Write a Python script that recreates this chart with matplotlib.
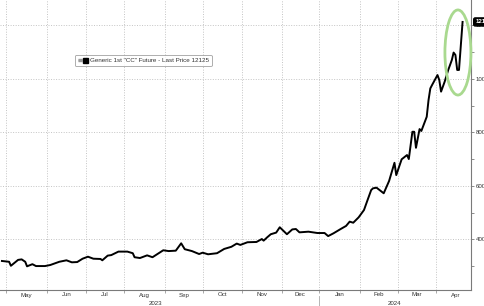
import numpy as np
import matplotlib
matplotlib.use("Agg")
import matplotlib.pyplot as plt
from matplotlib.patches import Ellipse
from matplotlib.lines import Line2D
from matplotlib.legend_handler import HandlerTuple

plt.rcParams['font.family'] = ['Liberation Sans', 'DejaVu Sans']

# ---------------- data ----------------
dates = [
    "2023-04-27", "2023-05-03", "2023-05-04", "2023-05-10", "2023-05-12", "2023-05-16",
    "2023-05-17", "2023-05-22", "2023-05-24", "2023-05-31", "2023-06-05", "2023-06-12",
    "2023-06-16", "2023-06-21", "2023-06-26", "2023-06-29", "2023-07-04", "2023-07-07",
    "2023-07-13", "2023-07-14", "2023-07-19", "2023-07-21", "2023-07-27", "2023-08-03",
    "2023-08-08", "2023-08-09", "2023-08-14", "2023-08-18", "2023-08-23", "2023-08-31",
    "2023-09-05", "2023-09-11", "2023-09-14", "2023-09-18", "2023-09-22", "2023-09-28",
    "2023-10-02", "2023-10-05", "2023-10-12", "2023-10-18", "2023-10-24", "2023-10-27",
    "2023-10-31", "2023-11-06", "2023-11-13", "2023-11-16", "2023-11-17", "2023-11-21",
    "2023-11-23", "2023-11-28", "2023-11-30", "2023-12-04", "2023-12-06", "2023-12-11",
    "2023-12-13", "2023-12-15", "2023-12-22", "2023-12-29", "2024-01-04", "2024-01-08",
    "2024-01-11", "2024-01-17", "2024-01-22", "2024-01-24", "2024-01-26", "2024-01-31",
    "2024-02-05", "2024-02-07", "2024-02-09", "2024-02-12", "2024-02-14", "2024-02-20",
    "2024-02-23", "2024-02-28", "2024-02-29", "2024-03-05", "2024-03-08", "2024-03-11",
    "2024-03-13", "2024-03-14", "2024-03-15", "2024-03-19", "2024-03-20", "2024-03-25",
    "2024-03-26", "2024-03-27", "2024-03-28", "2024-04-02", "2024-04-03", "2024-04-04",
    "2024-04-08", "2024-04-10", "2024-04-12", "2024-04-15", "2024-04-16", "2024-04-17",
    "2024-04-18", "2024-04-22",
]
prices = [
    3190, 3160, 3010, 3230, 3250, 3160,
    2990, 3070, 3000, 3000, 3040, 3160,
    3215, 3140, 3150, 3275, 3350, 3275,
    3265, 3215, 3390, 3410, 3540, 3540,
    3480, 3330, 3300, 3400, 3330, 3590,
    3560, 3575, 3850, 3630, 3560, 3450,
    3500, 3440, 3480, 3640, 3720, 3840,
    3790, 3890, 3900, 4010, 3950, 4075,
    4190, 4250, 4450, 4320, 4190, 4370,
    4385, 4260, 4285, 4235, 4235, 4120,
    4225, 4385, 4500, 4660, 4620, 4820,
    5095, 5470, 5840, 5905, 5930, 5720,
    6180, 6860, 6400, 6990, 7150, 7000,
    8020, 8020, 7420, 8120, 8050, 8580,
    9200, 9640, 9770, 10140, 9955, 9520,
    9890, 10330, 10700, 10980, 10890, 10330,
    10330, 12125,
]
month_starts = ["2023-05-01", "2023-06-01", "2023-07-01", "2023-08-01", "2023-09-01",
                "2023-10-01", "2023-11-01", "2023-12-01", "2024-01-01", "2024-02-01",
                "2024-03-01", "2024-04-01", "2024-05-01"]
month_labels = ["May", "Jun", "Jul", "Aug", "Sep", "Oct", "Nov", "Dec",
                "Jan", "Feb", "Mar", "Apr"]
year_labels = ["2023", "2024"]
year_start_2024 = "2024-01-01"
y_major = [4000, 6000, 8000, 10000, 12000]
y_minor = [3000, 5000, 7000, 9000, 11000]
last_price = 12125
series_name = 'Generic 1st "CC" Future - Last Price 12125'

# trading-day axis
origin = "2023-05-01"
x = np.busday_count(origin, dates)
mx = np.busday_count(origin, month_starts)
x_year = np.busday_count(origin, year_start_2024)

# ---------------- figure ----------------
W, H = 485, 306
fig = plt.figure(figsize=(W / 100, H / 100), dpi=100)
ax = fig.add_axes([0, 16 / H, 471 / W, 290 / H])

grid_kw = dict(color='#c4c4c4', lw=0.7, ls=(0, (1, 1.6)), zorder=0)
for m in mx[:-1]:
    ax.axvline(m, **grid_kw)
for v in y_major:
    ax.axhline(v, **grid_kw)

ax.plot(x, prices, color='black', lw=1.4, zorder=3, solid_joinstyle='round')

ax.set_xlim(-3.08, 259.7)
ax.set_ylim(2105, 12945)

# spines
for s in ['left', 'top']:
    ax.spines[s].set_visible(False)
for s in ['bottom', 'right']:
    ax.spines[s].set_color('#7a7a7a')
    ax.spines[s].set_linewidth(0.8)

# y axis on right
ax.yaxis.tick_right()
ax.set_yticks(y_major)
ax.set_yticks(y_minor, minor=True)
ax.set_yticklabels([str(v) for v in y_major])
ax.tick_params(axis='y', which='both', direction='out', length=2.5, width=0.6,
               color='#7a7a7a', labelsize=4.4, labelcolor='#333333', pad=1)

# x axis: boundaries as ticks, labels at month centres
ax.set_xticks(mx[:-1])
ax.set_xticklabels([])
centers = (mx[:-1] + mx[1:]) / 2
ax.set_xticks(centers, minor=True)
ax.set_xticklabels(month_labels, minor=True)
ax.tick_params(axis='x', which='major', direction='out', length=2.5, width=0.6,
               color='#9a9a9a')
ax.tick_params(axis='x', which='minor', length=0, labelsize=4.4,
               labelcolor='#333333', pad=1.8)

# year labels and separator
xt = ax.get_xaxis_transform()
ax.text(83.5, -0.048, year_labels[0], transform=xt, ha='center', va='center',
        fontsize=4.4, color='#333333')
ax.text(217, -0.048, year_labels[1], transform=xt, ha='center', va='center',
        fontsize=4.4, color='#333333')
ax.plot([x_year, x_year], [-0.022, -0.06], transform=xt, clip_on=False,
        color='#aaaaaa', lw=0.6)

# last price tag
ax.text(1.009, last_price, f"{last_price}", transform=ax.get_yaxis_transform(),
        ha='left', va='center', fontsize=4.4, color='white', fontweight='bold',
        bbox=dict(boxstyle='round,pad=0.25', fc='black', ec='black'), clip_on=False)

# green highlight ellipse
ell = Ellipse((252.4, 10983), width=14.5, height=3180, fill=False,
              edgecolor='#a9d98f', lw=2.0, clip_on=False, zorder=4)
ax.add_patch(ell)

# legend
h_icon = Line2D([], [], ls='none', marker='$\\equiv$', color='#9a9a9a', markersize=3)
h_sq = Line2D([], [], ls='none', marker='s', color='black', markersize=3.6)
leg = fig.legend([(h_icon, h_sq)], [series_name],
                 handler_map={tuple: HandlerTuple(ndivide=None, pad=0.1)},
                 loc='upper left', bbox_to_anchor=(75 / W, 1 - 55 / H),
                 fontsize=4.5, frameon=True, fancybox=True, handlelength=1.6,
                 handletextpad=0.3, borderpad=0.45, borderaxespad=0)
leg.get_frame().set_edgecolor('#8a8a8a')
leg.get_frame().set_linewidth(0.6)
for t in leg.get_texts():
    t.set_color('#333333')

fig.savefig("out.png", dpi=100)
